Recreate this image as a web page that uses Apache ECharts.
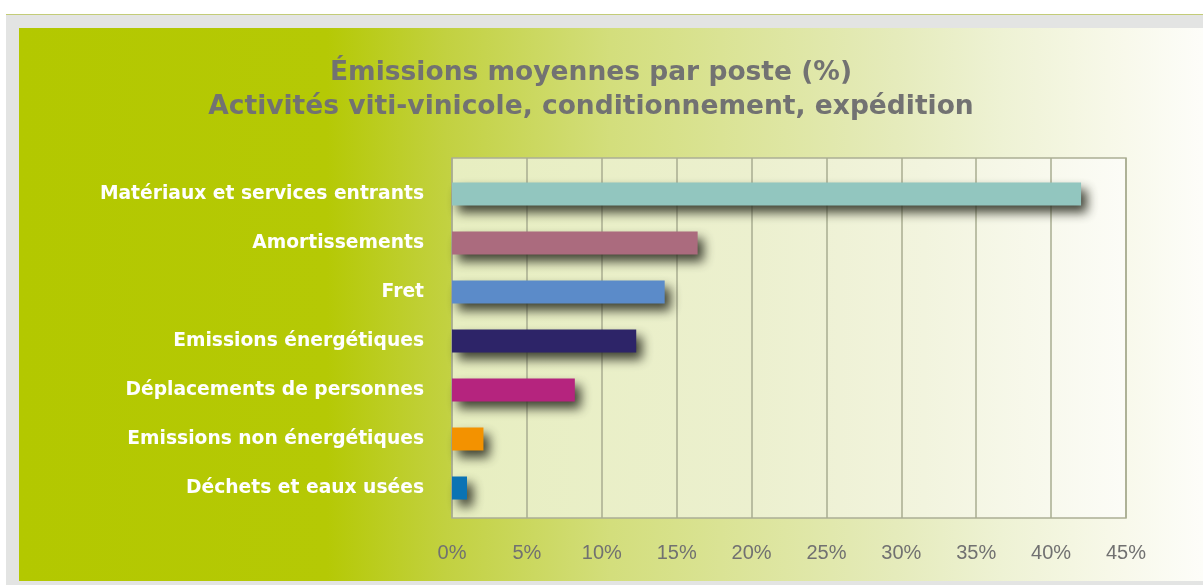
<!DOCTYPE html>
<html>
<head>
<meta charset="utf-8">
<script src="https://cdn.jsdelivr.net/npm/echarts@6/dist/echarts.min.js"></script>
<style>
html,body{margin:0;padding:0;background:#fff;}
#c{width:1203px;height:585px;}
</style>
</head>
<body>
<div id="c"></div>
<script>
const titleLines = ['Émissions moyennes par poste (%)', 'Activités viti-vinicole, conditionnement, expédition'];
const categories = ['Matériaux et services entrants', 'Amortissements', 'Fret', 'Emissions énergétiques', 'Déplacements de personnes', 'Emissions non énergétiques', 'Déchets et eaux usées'];
const values = [42, 16.4, 14.2, 12.3, 8.2, 2.1, 1.0];
const barColors = ['#92c6bf', '#ab6b7e', '#5b8bc9', '#2d2468', '#b5247e', '#f39200', '#0b73b4'];
const xTickMax = 45;
const xTickStep = 5;

const chart = echarts.init(document.getElementById('c'), null, {renderer: 'canvas'});
const boldFont = '"DejaVu Sans", sans-serif';
const tickFont = '"Liberation Sans", Arial, sans-serif';

chart.setOption({
  animation: false,
  graphic: [
    {type: 'rect', z: -10, shape: {x: 6, y: 14, width: 1197, height: 571}, style: {fill: '#e3e4e3'}},
    {type: 'rect', z: -10, shape: {x: 6, y: 14, width: 1197, height: 1}, style: {fill: '#c3cc78'}},
    {type: 'rect', z: -9, shape: {x: 19, y: 28, width: 1184, height: 553},
      style: {fill: new echarts.graphic.LinearGradient(0, 0, 1, 0, [
        {offset: 0, color: '#b3c800'},
        {offset: 0.26, color: '#b5c905'},
        {offset: 0.36, color: '#c2d140'},
        {offset: 0.5, color: '#d3de7c'},
        {offset: 0.74, color: '#e5ebbb'},
        {offset: 0.83, color: '#eef2d4'},
        {offset: 0.92, color: '#f7f8e8'},
        {offset: 1, color: '#fdfdf9'}
      ])}},
    {type: 'text', z: 10, x: 591, y: 73, style: {text: titleLines[0], fill: '#727272', font: 'bold 26.5px ' + boldFont, align: 'center', verticalAlign: 'middle'}},
    {type: 'text', z: 10, x: 591, y: 107, style: {text: titleLines[1], fill: '#727272', font: 'bold 26.5px ' + boldFont, align: 'center', verticalAlign: 'middle'}}
  ],
  grid: [
    {left: 452, right: 77, top: 158, bottom: 67, show: true, borderColor: '#acae95', borderWidth: 1.5,
      backgroundColor: new echarts.graphic.LinearGradient(0, 0, 1, 0, [
        {offset: 0, color: '#e7eec0'},
        {offset: 0.45, color: '#ecf0cf'},
        {offset: 0.7, color: '#f2f4de'},
        {offset: 1, color: '#fcfcf7'}
      ])},
    {left: 452, right: 77, top: 169.5, bottom: 72.5}
  ],
  xAxis: [
    {gridIndex: 0, type: 'value', min: 0, max: xTickMax, interval: xTickStep,
      axisLine: {show: false}, axisTick: {show: false},
      splitLine: {show: true, lineStyle: {color: '#a9ac90', width: 1.5}},
      axisLabel: {formatter: '{value}%', color: '#717171', fontSize: 20, fontFamily: tickFont, margin: 25}},
    {gridIndex: 1, type: 'value', min: 0, max: xTickMax, show: false}
  ],
  yAxis: [
    {gridIndex: 0, type: 'category', data: categories, show: false},
    {gridIndex: 1, type: 'category', data: categories, inverse: true,
      axisLine: {show: false}, axisTick: {show: false}, splitLine: {show: false},
      axisLabel: {color: '#ffffff', fontWeight: 'bold', fontSize: 18.7, fontFamily: boldFont, margin: 28}}
  ],
  series: [{
    type: 'bar', xAxisIndex: 1, yAxisIndex: 1, barWidth: 23,
    data: values.map((v, i) => ({value: v, itemStyle: {color: barColors[i]}})),
    itemStyle: {shadowBlur: 11, shadowOffsetX: 6, shadowOffsetY: 7, shadowColor: 'rgba(45,48,35,0.9)'}
  }]
});
</script>
</body>
</html>
